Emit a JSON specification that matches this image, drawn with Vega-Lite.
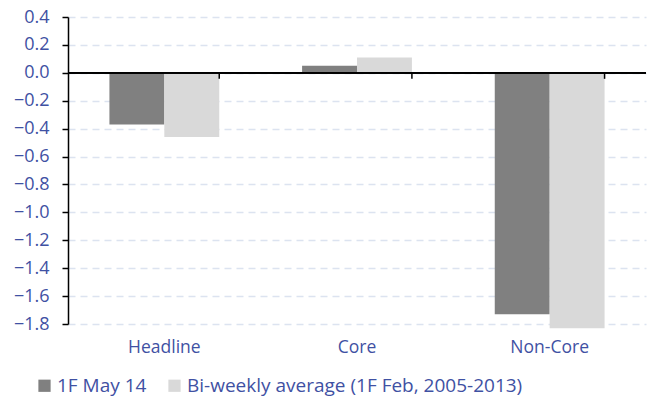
{
  "$schema": "https://vega.github.io/schema/vega-lite/v6.json",
  "autosize": {"type": "none"},
  "width": 578,
  "height": 307,
  "padding": {"left": 68, "top": 17, "right": 12, "bottom": 78},
  "background": "white",
  "config": {
    "view": {"stroke": null},
    "font": "Open Sans",
    "axis": {"labelFont": "Open Sans", "labelFontSize": 17.5, "labelColor": "#3f51a3"},
    "axisY": {"labelFontSize": 18, "labelOverlap": false, "labelBound": false, "labelFlush": false, "format": ".1f", "domainColor": "#000000", "domainWidth": 1.5, "tickColor": "#000000", "tickSize": 6, "tickWidth": 1.5, "labelPadding": 13, "grid": true, "gridColor": "#dce3f0", "gridDash": [7, 5], "gridWidth": 1.5, "title": null},
    "axisX": {"title": null, "labelAngle": 0, "domain": false, "ticks": false, "labelPadding": 14, "grid": false},
    "legend": {"labelFont": "Open Sans", "labelFontSize": 19, "labelColor": "#3f51a3"}
  },
  "data": {
    "values": [
      {"category": "Headline", "series": "1F May 14", "value": -0.37},
      {"category": "Headline", "series": "Bi-weekly average (1F Feb, 2005-2013)", "value": -0.46},
      {"category": "Core", "series": "1F May 14", "value": 0.05},
      {"category": "Core", "series": "Bi-weekly average (1F Feb, 2005-2013)", "value": 0.11},
      {"category": "Non-Core", "series": "1F May 14", "value": -1.73},
      {"category": "Non-Core", "series": "Bi-weekly average (1F Feb, 2005-2013)", "value": -1.83}
    ]
  },
  "layer": [
    {
      "mark": {"type": "bar"},
      "encoding": {
        "x": {
          "field": "category", "type": "nominal", "sort": ["Headline", "Core", "Non-Core"],
          "scale": {"paddingInner": 0.43, "paddingOuter": 0.215},
          "axis": {"orient": "bottom"}
        },
        "xOffset": {"field": "series", "type": "nominal", "sort": ["1F May 14", "Bi-weekly average (1F Feb, 2005-2013)"], "scale": {"paddingInner": 0}},
        "y": {
          "field": "value", "type": "quantitative",
          "scale": {"domain": [-1.8, 0.4], "nice": false, "zero": false},
          "axis": {"values": [-1.8, -1.6, -1.4, -1.2, -1.0, -0.8, -0.6, -0.4, -0.2, 0, 0.2, 0.4]}
        },
        "color": {
          "field": "series", "type": "nominal", "sort": ["1F May 14", "Bi-weekly average (1F Feb, 2005-2013)"],
          "scale": {"range": ["#808080", "#d9d9d9"]},
          "legend": {"title": null, "orient": "none", "direction": "horizontal", "legendX": -33, "legendY": 359, "symbolType": "square", "symbolSize": 150, "symbolStrokeWidth": 0, "labelOffset": 3, "columnPadding": 18, "labelLimit": 0}
        }
      }
    },
    {
      "mark": {"type": "rule", "color": "#000000", "strokeWidth": 1.5},
      "encoding": {"y": {"datum": 0, "type": "quantitative", "axis": {"values": [-1.8, -1.6, -1.4, -1.2, -1.0, -0.8, -0.6, -0.4, -0.2, 0, 0.2, 0.4]}}}
    },
    {
      "transform": [{"filter": "datum.series === '1F May 14'"}],
      "mark": {"type": "rule", "color": "#000000", "strokeWidth": 1.5},
      "encoding": {
        "x": {"field": "category", "type": "nominal", "sort": ["Headline", "Core", "Non-Core"], "bandPosition": 1, "axis": {"orient": "bottom"}},
        "y": {"datum": 0, "type": "quantitative", "axis": {"values": [-1.8, -1.6, -1.4, -1.2, -1.0, -0.8, -0.6, -0.4, -0.2, 0, 0.2, 0.4]}},
        "y2": {"datum": -0.043}
      }
    }
  ]
}
